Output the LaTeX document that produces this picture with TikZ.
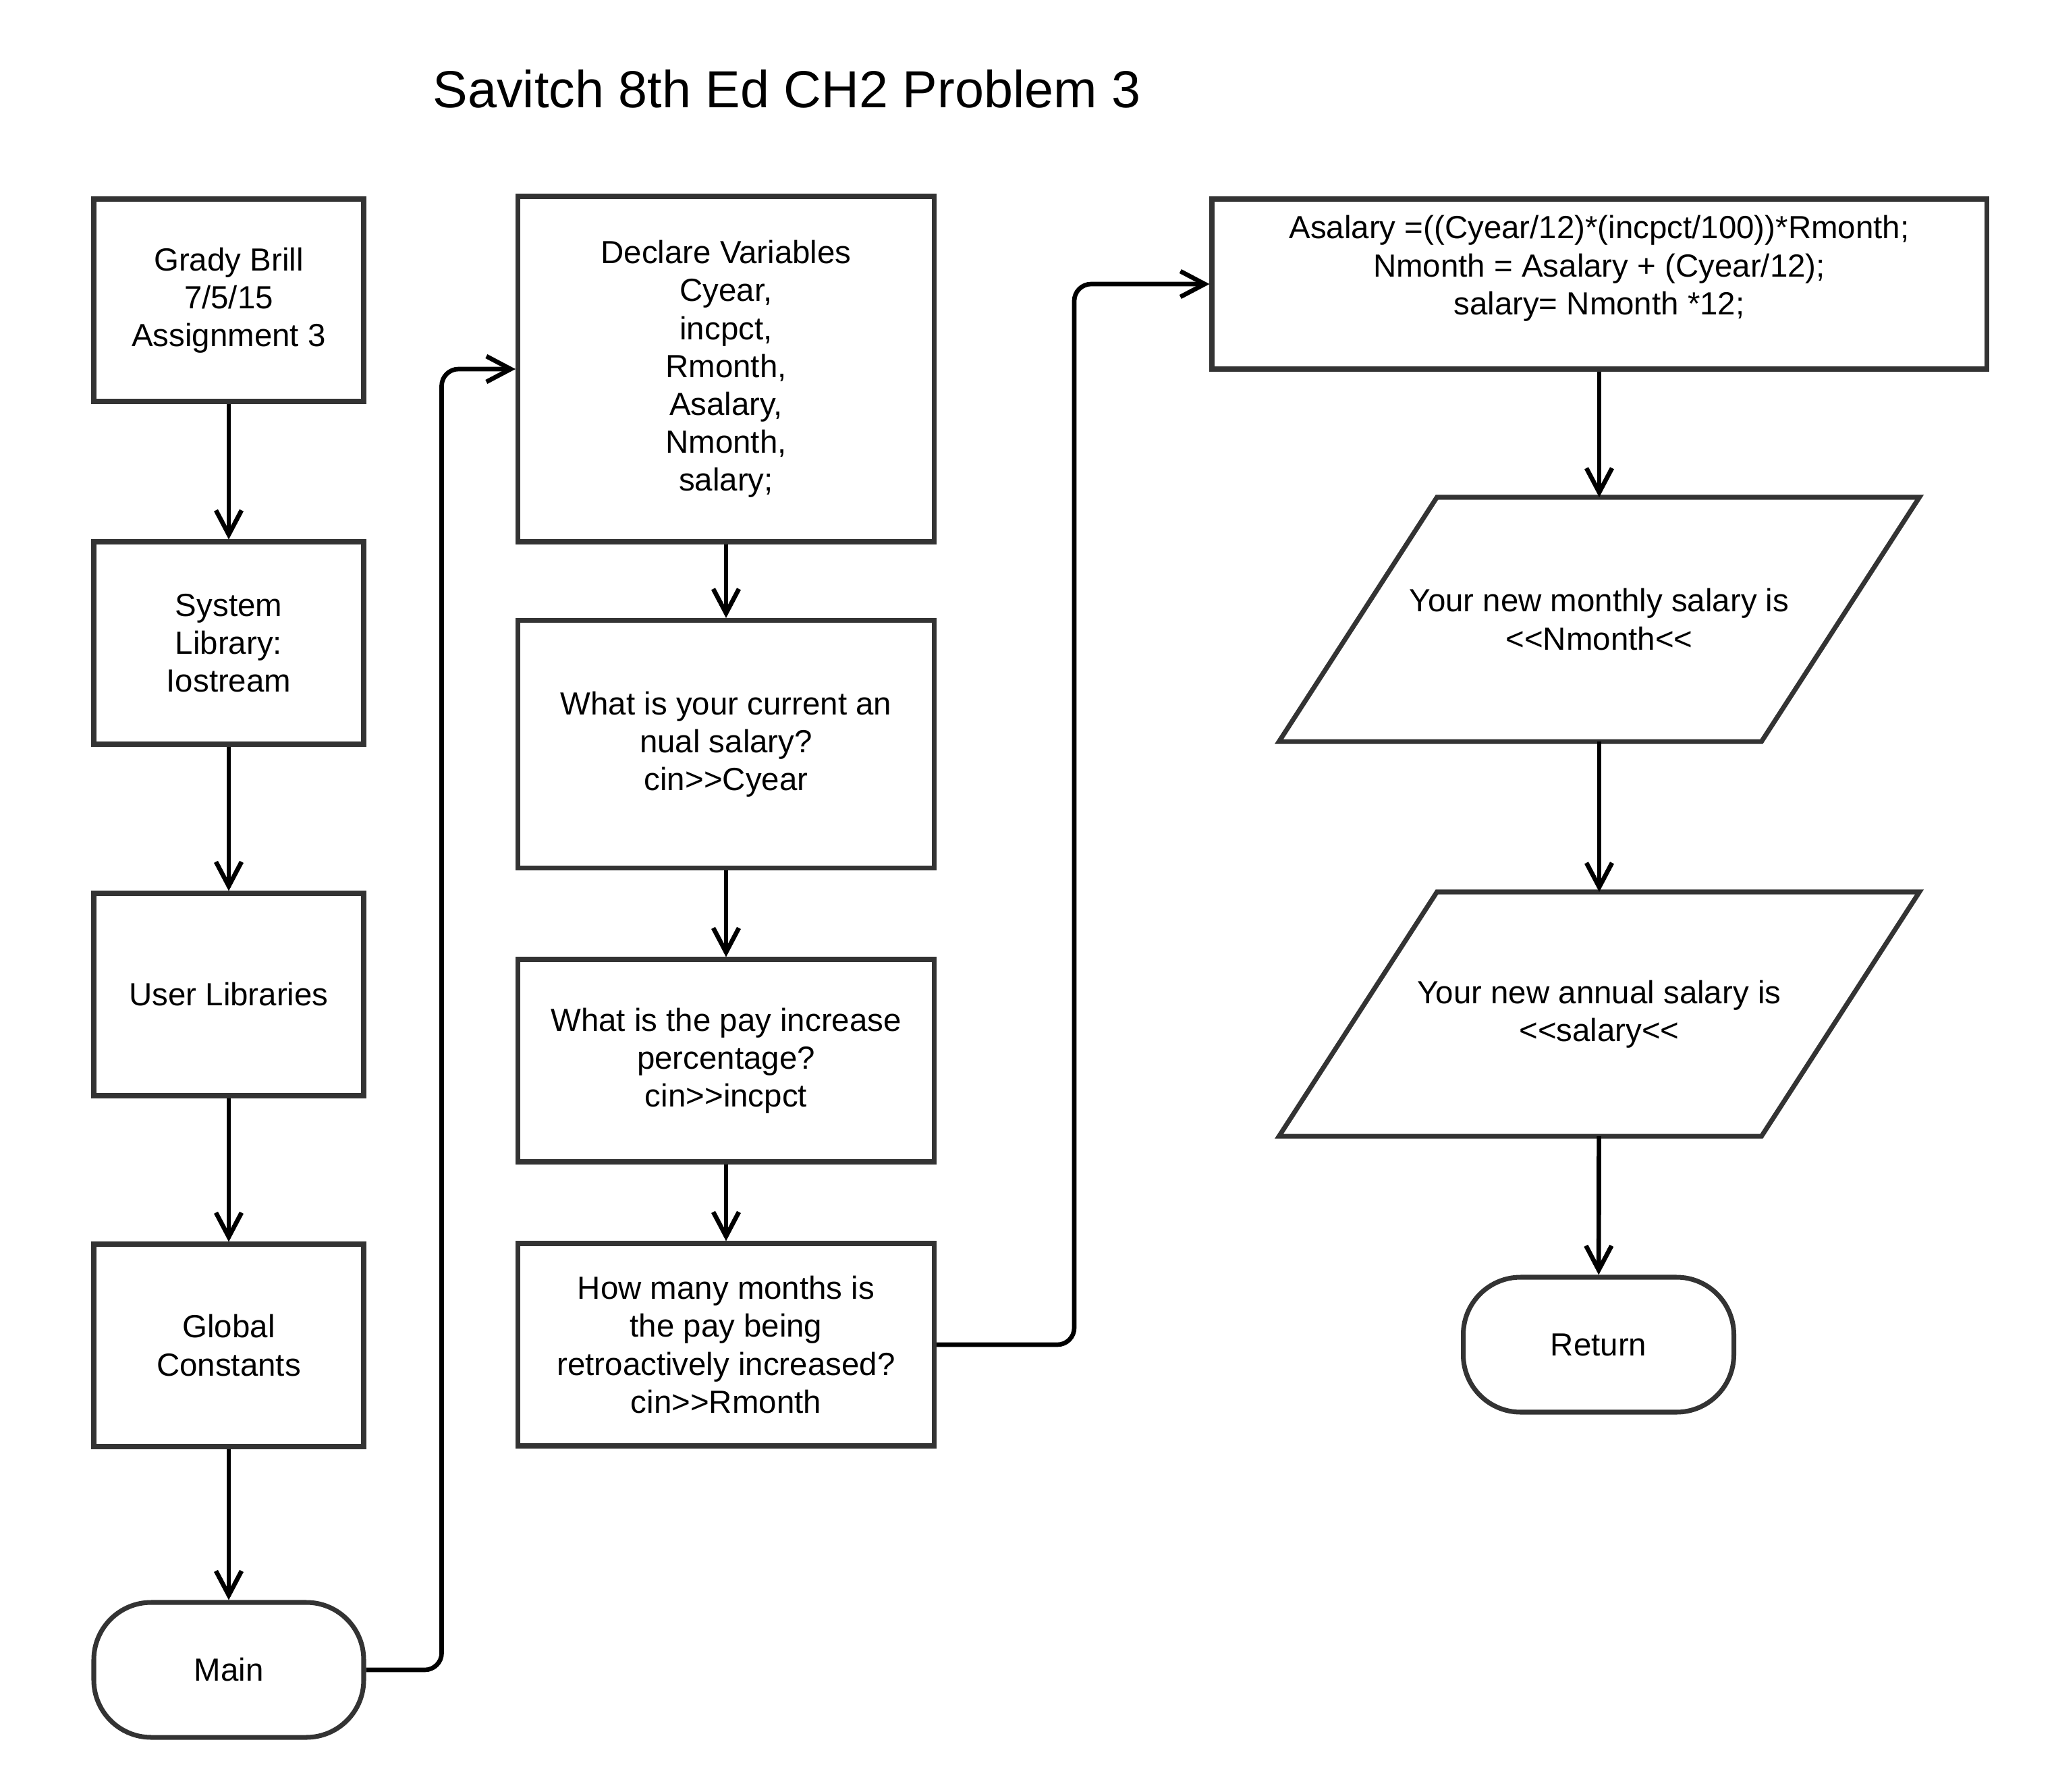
\documentclass[tikz,border=0pt]{standalone}
\usepackage{fontspec}
\newfontfamily\flowfont{Liberation Sans}
\usetikzlibrary{arrows.meta,positioning}
\definecolor{boxline}{HTML}{333333}
\tikzset{
  procbox/.style={rectangle, draw=boxline, line width=2pt, align=center, inner sep=0pt,
                  font=\flowfont\fontsize{13.5}{16}\selectfont, minimum width=4cm, minimum height=3cm},
  termbox/.style={rectangle, rounded corners=0.85cm, draw=boxline, line width=2pt, align=center,
                  font=\flowfont\fontsize{13.5}{16}\selectfont, minimum width=4cm, minimum height=2cm},
  iobox/.style={rectangle, align=center, inner sep=0pt, outer sep=1pt,
                font=\flowfont\fontsize{13.5}{16}\selectfont, minimum width=7.08cm, minimum height=3.55cm},
  arr/.style={-{Straight Barb[length=3.6mm, width=3.8mm]}, line width=1.9pt, draw=black},
}

\begin{document}
\begin{tikzpicture}
  \useasboundingbox (0,0) rectangle (30.41,-26.56);
  \node[font=\flowfont\fontsize{22}{26}\selectfont] (title) at (11.66,-1.32) {Savitch 8th Ed CH2 Problem 3};

  % left column
  \node[procbox] (grady) at (3.39,-4.45) {Grady Brill\\7/5/15\\Assignment 3};
  \node[procbox] (syslib) at (3.39,-9.53) {System\\Library:\\Iostream};
  \node[procbox] (userlib) at (3.39,-14.74) {User Libraries};
  \node[procbox] (globals) at (3.39,-19.94) {Global\\Constants};
  \node[termbox] (main) at (3.39,-24.75) {Main};

  % middle column
  \node[procbox, minimum width=6.17cm, minimum height=5.12cm] (declare) at (10.76,-5.47)
    {Declare Variables\\Cyear,\\incpct,\\Rmonth,\\Asalary,\\Nmonth,\\salary;};
  \node[procbox, minimum width=6.17cm, minimum height=3.67cm] (current) at (10.76,-11.03)
    {What is your current an\\nual salary?\\cin>>Cyear};
  \node[procbox, minimum width=6.17cm] (pay) at (10.76,-15.72)
    {What is the pay increase\\percentage?\\cin>>incpct};
  \node[procbox, minimum width=6.17cm] (months) at (10.76,-19.93)
    {How many months is\\the pay being\\retroactively increased?\\cin>>Rmonth};

  % right column
  \node[procbox, minimum width=11.48cm, minimum height=2.52cm] (calc) at (23.70,-4.21)
    {Asalary =((Cyear/12)*(incpct/100))*Rmonth;\\Nmonth = Asalary + (Cyear/12);\\salary= Nmonth *12;\\~};
  \node[iobox] (showmonth) at (23.70,-9.18) {Your new monthly salary is\\<<Nmonth<<};
  \node[iobox] (showyear) at (23.70,-15.03) {Your new annual salary is\\<<salary<<};
  \node[termbox, minimum width=4.01cm] (ret) at (23.69,-19.93) {Return};

  % output parallelograms
  \foreach \io in {showmonth,showyear}
    \draw[boxline, line width=2pt] ([xshift=1.17cm]\io.north west) -- ([xshift=1.17cm]\io.north east)
      -- ([xshift=-1.17cm]\io.south east) -- ([xshift=-1.17cm]\io.south west) -- cycle;

  \draw[arr] (grady) -- (syslib);
  \draw[arr] (syslib) -- (userlib);
  \draw[arr] (userlib) -- (globals);
  \draw[arr] (globals) -- (main);
  \draw[arr, rounded corners=0.25cm] (main.east) -- ++(1.12,0) |- (declare.west);
  \draw[arr] (declare) -- (current);
  \draw[arr] (current) -- (pay);
  \draw[arr] (pay) -- (months);
  \draw[arr, rounded corners=0.25cm] (months.east) -- ++(2.04,0) |- (calc.west);
  \draw[arr] (calc) -- (showmonth);
  \draw[arr] (showmonth) -- (showyear);
  \draw[arr] (showyear) -- (ret);
\end{tikzpicture}
\end{document}
